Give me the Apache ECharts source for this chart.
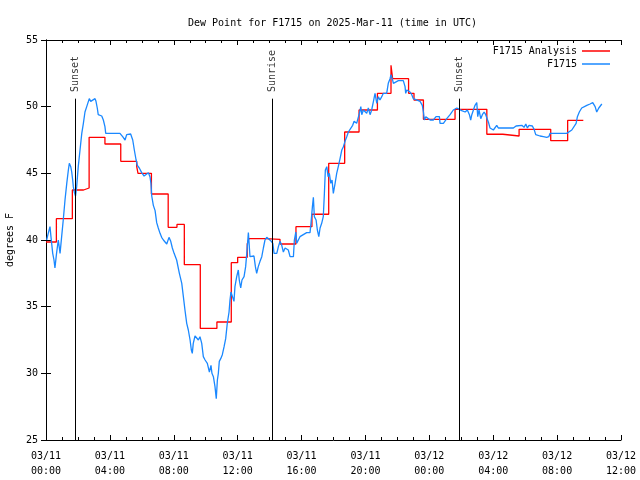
<!DOCTYPE html>
<html>
<head>
<meta charset="utf-8">
<script src="https://cdn.jsdelivr.net/npm/echarts@6/dist/echarts.min.js"></script>
<style>html,body{margin:0;padding:0;background:#fff}#c{width:640px;height:480px}</style>
</head>
<body>
<div id="c"></div>
<script>
// Hours since 2025-03-11 00:00 UTC
const analysisTimes = [0, 0.65, 1.65, 2.35, 2.7, 3.69, 4.68, 5.68, 5.76, 6.6, 7.65, 8.2, 8.66, 9.66, 10.7, 11.6, 12.0, 12.6, 12.7, 13.7, 14.65, 15.65, 16.65, 17.7, 18.7, 19.6, 20.75, 21.6, 21.7, 22.7, 23.04, 23.63, 25.61, 27.6, 28.6, 29.62, 31.6, 32.66, 33.64];
const analysisValues = [39.85, 41.6, 43.75, 43.9, 47.7, 47.2, 45.9, 45.5, 45.0, 43.45, 40.95, 41.17, 38.15, 33.37, 33.85, 38.3, 38.7, 39.7, 40.1, 40.05, 39.7, 41.0, 41.93, 45.75, 48.1, 49.75, 51.0, 53.1, 52.1, 51.0, 50.5, 49.05, 49.8, 47.93, 47.8, 48.3, 47.45, 48.97, 48.97];

const obsTimes = [0.04,0.14,0.25,0.31,0.42,0.50,0.56,0.66,0.77,0.88,0.98,1.08,1.19,1.30,1.40,1.46,1.55,1.61,1.67,1.71,1.77,1.85,1.92,2.02,2.13,2.24,2.34,2.44,2.55,2.71,2.80,2.92,3.07,3.13,3.21,3.27,3.49,3.59,3.69,3.74,4.63,4.80,4.95,5.05,5.15,5.30,5.43,5.53,5.64,5.72,5.84,5.99,6.14,6.26,6.41,6.51,6.57,6.62,6.72,6.83,6.93,7.03,7.14,7.24,7.35,7.56,7.70,7.81,7.91,8.02,8.18,8.35,8.50,8.60,8.70,8.81,8.91,9.02,9.10,9.16,9.22,9.33,9.44,9.54,9.64,9.75,9.85,9.96,10.10,10.23,10.33,10.39,10.48,10.58,10.66,10.73,10.79,10.85,10.94,11.04,11.15,11.25,11.35,11.46,11.52,11.58,11.69,11.77,11.83,11.94,12.04,12.10,12.19,12.27,12.40,12.50,12.57,12.63,12.67,12.73,12.77,12.88,13.02,13.11,13.19,13.29,13.40,13.51,13.61,13.71,13.82,13.92,14.07,14.20,14.28,14.45,14.55,14.65,14.76,14.86,14.97,15.07,15.17,15.28,15.49,15.55,15.64,15.70,15.80,15.90,16.11,16.32,16.53,16.59,16.68,16.74,16.80,16.91,16.99,17.08,17.16,17.26,17.36,17.43,17.49,17.58,17.66,17.74,17.83,17.91,17.99,18.10,18.20,18.30,18.41,18.52,18.62,18.72,18.83,18.93,19.04,19.20,19.29,19.37,19.45,19.56,19.62,19.71,19.77,19.87,19.97,20.08,20.18,20.29,20.39,20.50,20.60,20.71,20.81,20.91,21.02,21.12,21.23,21.33,21.43,21.54,21.60,21.68,21.75,21.85,22.06,22.37,22.48,22.52,22.59,22.69,22.79,22.90,23.00,23.11,23.42,23.56,23.63,23.69,23.78,23.88,24.05,24.25,24.42,24.63,24.67,24.88,25.09,25.30,25.50,25.72,25.88,26.03,26.24,26.38,26.51,26.59,26.66,26.76,26.86,26.97,27.03,27.11,27.22,27.32,27.43,27.53,27.63,27.72,27.80,27.91,28.01,28.12,28.22,28.32,29.26,29.43,29.79,29.93,30.04,30.14,30.24,30.35,30.45,30.56,30.66,30.76,30.93,31.14,31.35,31.48,31.56,32.60,32.92,33.02,33.19,33.27,33.39,33.54,33.66,33.86,34.06,34.23,34.38,34.48,34.61,34.80];
const obsValues = [40.0,40.5,41.0,40.25,39.0,38.5,37.9,39.0,40.0,39.0,40.25,41.5,43.0,44.25,45.25,45.75,45.5,45.1,44.5,44.0,43.6,43.3,44.0,45.5,46.75,48.0,48.75,49.6,50.0,50.6,50.4,50.5,50.6,50.4,49.9,49.4,49.3,49.0,48.5,48.0,48.0,47.75,47.5,47.9,48.0,47.95,47.5,46.75,46.0,45.6,45.4,45.05,44.8,44.9,45.05,44.75,44.25,43.3,42.6,42.2,41.3,40.9,40.5,40.2,40.0,39.7,40.2,39.9,39.4,39.0,38.5,37.5,36.75,35.75,34.75,33.75,33.25,32.5,31.75,31.5,32.25,32.8,32.8,32.5,32.75,32.25,31.25,31.0,30.75,30.1,30.6,30.0,29.75,29.0,28.1,29.5,30.0,30.9,31.1,31.4,32.0,32.6,33.75,34.6,35.5,36.1,36.0,35.4,36.5,37.25,37.75,37.0,36.4,37.0,37.25,38.0,39.0,39.9,40.55,39.5,38.75,38.9,38.8,38.0,37.5,38.0,38.4,38.75,39.4,40.0,40.2,40.1,39.95,39.75,39.0,39.0,39.5,39.9,39.6,39.1,39.4,39.5,39.25,38.75,38.75,40.0,40.6,39.75,40.0,40.25,40.4,40.55,40.55,41.25,42.5,43.2,41.75,41.5,40.75,40.25,40.9,41.25,41.75,43.5,45.25,45.5,44.75,45.0,44.25,44.5,43.5,44.25,45.0,45.5,46.1,46.75,47.0,47.4,47.75,48.1,48.25,48.6,48.9,49.0,48.75,48.9,49.5,50.0,49.4,49.75,49.6,49.5,49.9,49.4,49.75,50.4,51.0,50.25,50.75,50.5,50.75,51.0,51.1,51.0,51.75,52.1,52.4,52.1,51.75,51.9,51.95,51.95,51.5,51.0,51.25,51.25,51.1,50.9,50.6,50.5,50.4,50.1,49.6,49.0,49.25,49.1,49.0,49.0,49.25,49.25,48.75,48.75,49.1,49.4,49.75,49.9,49.8,49.7,49.6,49.75,49.4,49.0,49.4,49.75,50.1,50.3,49.25,49.75,49.1,49.4,49.6,49.4,49.4,48.75,48.4,48.5,48.25,48.4,48.6,48.4,48.4,48.55,48.6,48.45,48.7,48.4,48.6,48.45,48.55,48.3,47.9,47.75,47.8,47.75,47.7,47.75,48.0,48.0,48.25,48.4,48.75,49.25,49.6,49.9,50.0,50.1,50.2,50.3,50.0,49.6,49.9,50.2];

const sunTimes = [1.82, 14.15, 25.86];
const sunNames = ['Sunset', 'Sunrise', 'Sunset'];

const yTicks = [25, 30, 35, 40, 45, 50, 55];

const FONT = 'DejaVu Sans Mono';
const lineTop = 50.6;   // top of the sun event lines (degrees)
const labelBase = 51.1; // baseline for sun event labels

function zip(a, b) { return a.map((v, i) => [v, b[i]]); }
function fmtTime(v) {
  const day = 11 + Math.floor(v / 24);
  const h = v % 24;
  return '03/' + day + '\n' + String(h).padStart(2, '0') + ':00';
}

const chart = echarts.init(document.getElementById('c'), null, { renderer: 'canvas' });
const axisCommon = {
  axisLine: { show: true, lineStyle: { color: '#000', width: 1 } },
  splitLine: { show: false }
};
chart.setOption({
  animation: false,
  backgroundColor: '#fff',
  textStyle: { fontFamily: FONT },
  title: {
    text: 'Dew Point for F1715 on 2025-Mar-11 (time in UTC)',
    left: 183, top: 13,
    textStyle: { fontFamily: FONT, fontSize: 10, fontWeight: 'normal', color: '#000' }
  },
  legend: {
    data: ['F1715 Analysis', 'F1715'],
    orient: 'vertical', right: 25, top: 40, align: 'right',
    icon: 'rect', itemWidth: 28, itemHeight: 1.5, itemGap: 1,
    textStyle: { fontFamily: FONT, fontSize: 10, color: '#000', lineHeight: 12 }
  },
  grid: { left: 46, right: 19, top: 40, bottom: 40, containLabel: false, outerBoundsMode: 'none' },
  xAxis: [
    Object.assign({
      type: 'value', min: 0, max: 36, interval: 4, position: 'bottom',
      axisTick: { show: true, inside: true, length: 5, lineStyle: { color: '#000' } },
      minorTick: { show: true, splitNumber: 4, length: 3, lineStyle: { color: '#000' } },
      axisLabel: { formatter: fmtTime, fontFamily: FONT, fontSize: 10, color: '#000', margin: 9, lineHeight: 15, showMinLabel: true, showMaxLabel: true }
    }, axisCommon),
    Object.assign({
      type: 'value', min: 0, max: 36, interval: 4, position: 'top',
      axisTick: { show: true, inside: true, length: 5, lineStyle: { color: '#000' } },
      minorTick: { show: true, splitNumber: 4, length: 3, lineStyle: { color: '#000' } },
      axisLabel: { show: false }
    }, axisCommon)
  ],
  yAxis: [
    Object.assign({
      type: 'value', min: yTicks[0], max: yTicks[yTicks.length - 1], interval: 5, position: 'left',
      name: 'degrees F', nameLocation: 'middle', nameGap: 31, nameRotate: 90,
      nameTextStyle: { fontFamily: FONT, fontSize: 10, color: '#000' },
      axisTick: { show: true, inside: true, length: 5, lineStyle: { color: '#000' } },
      axisLabel: { fontFamily: FONT, fontSize: 10, color: '#000', margin: 8 }
    }, axisCommon),
    Object.assign({
      type: 'value', min: yTicks[0], max: yTicks[yTicks.length - 1], interval: 5, position: 'right',
      axisTick: { show: true, inside: true, length: 5, lineStyle: { color: '#000' } },
      axisLabel: { show: false }
    }, axisCommon)
  ],
  series: [
    {
      name: 'F1715 Analysis', type: 'line', step: 'end',
      data: zip(analysisTimes, analysisValues),
      showSymbol: false, symbol: 'none', color: '#ff0000',
      lineStyle: { color: '#ff0000', width: 1.3 }, z: 3
    },
    {
      name: 'F1715', type: 'line',
      data: zip(obsTimes, obsValues),
      showSymbol: false, symbol: 'none', color: '#1a88ff',
      lineStyle: { color: '#1a88ff', width: 1.3 }, z: 4
    },
    {
      name: 'sun', type: 'scatter', symbolSize: 0, silent: true,
      data: sunTimes.map((t, i) => ({ value: [t, labelBase], name: sunNames[i] })),
      label: {
        show: true, position: 'inside', rotate: 90, align: 'left', verticalAlign: 'middle',
        formatter: p => p.name, fontFamily: FONT, fontSize: 10, color: '#000'
      },
      markLine: {
        silent: true, symbol: 'none', animation: false,
        label: { show: false },
        lineStyle: { color: '#000', width: 1, type: 'solid' },
        data: sunTimes.map(t => [{ coord: [t, yTicks[0]] }, { coord: [t, lineTop] }])
      },
      z: 5
    }
  ]
});
</script>
</body>
</html>
